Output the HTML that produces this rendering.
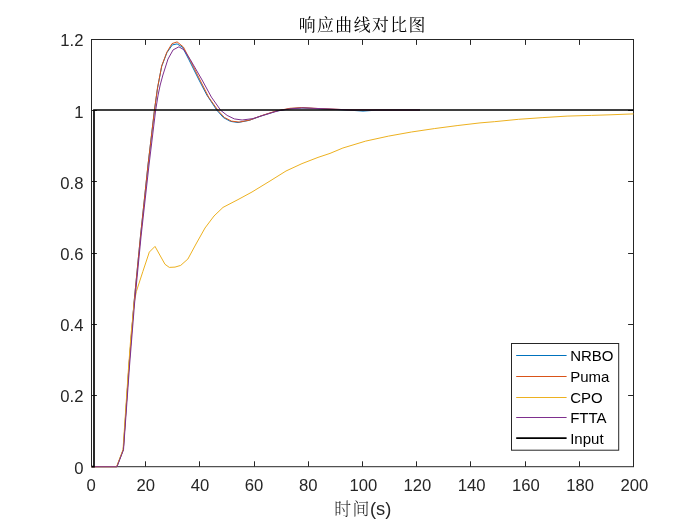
<!DOCTYPE html>
<html lang="zh-CN">
<head>
<meta charset="utf-8">
<title>响应曲线对比图</title>
<style>
html,body{margin:0;padding:0;background:#fff;}
body{width:700px;height:525px;overflow:hidden;}
svg{display:block;}
.tk text{font-family:"Liberation Sans",sans-serif;font-size:16.67px;fill:#262626;}
.lg text{font-family:"Liberation Sans",sans-serif;font-size:15px;fill:#000;}
.cjk{font-family:"Liberation Serif","Noto Serif CJK SC",serif;font-weight:300;}
.lat{font-family:"Liberation Sans",sans-serif;font-weight:400;}
.crv polyline{fill:none;stroke-width:1;stroke-linejoin:round;stroke-linecap:butt;}
</style>
</head>
<body>
<svg width="700" height="525" viewBox="0 0 700 525">
<rect x="0" y="0" width="700" height="525" fill="#ffffff"/>
<rect x="91.5" y="39.5" width="542.0" height="427.2" fill="none" stroke="#262626" stroke-width="1"/>
<path d="M145.50 466.70v-5.4M145.50 39.50v5.4M199.50 466.70v-5.4M199.50 39.50v5.4M254.50 466.70v-5.4M254.50 39.50v5.4M308.50 466.70v-5.4M308.50 39.50v5.4M362.50 466.70v-5.4M362.50 39.50v5.4M416.50 466.70v-5.4M416.50 39.50v5.4M470.50 466.70v-5.4M470.50 39.50v5.4M525.50 466.70v-5.4M525.50 39.50v5.4M579.50 466.70v-5.4M579.50 39.50v5.4M91.50 395.50h5.4M633.50 395.50h-5.4M91.50 324.50h5.4M633.50 324.50h-5.4M91.50 253.50h5.4M633.50 253.50h-5.4M91.50 181.50h5.4M633.50 181.50h-5.4M91.50 110.50h5.4M633.50 110.50h-5.4" fill="none" stroke="#262626" stroke-width="1"/>
<g class="crv">
<polyline points="91.5,466.7 116.8,466.7 123.3,449.7 129.0,365.0 134.0,303.0 140.5,236.0 148.0,165.0 154.4,110.6 157.5,88.2 161.7,66.3 166.9,52.7 172.3,44.9 177.1,43.9 182.5,47.2 189.0,59.9 199.0,80.0 206.8,95.0 216.9,110.3 223.4,117.6 230.5,121.4 238.0,122.5 249.0,120.4 261.4,115.9 275.7,111.3 290.0,108.6 301.6,107.9 320.0,108.8 350.0,110.2 363.0,111.1 376.0,110.2 400.0,110.0 420.0,110.0" stroke="#0072bd"/>
<polyline points="91.5,466.7 116.8,466.7 123.3,449.7 129.0,365.0 134.0,303.0 140.5,236.0 148.0,165.0 154.4,110.6 157.5,88.0 161.7,65.9 166.9,52.1 172.0,43.6 177.1,41.9 183.4,47.0 190.0,59.9 200.0,80.0 208.6,97.1 217.9,110.3 224.3,117.4 231.4,121.1 239.3,122.1 250.0,120.0 261.4,115.7 275.7,111.1 290.0,108.3 301.6,107.6 320.0,108.6 350.0,109.9 400.0,110.0 420.0,110.0" stroke="#d95319"/>
<polyline points="91.5,466.7 116.6,466.7 123.0,449.7 128.4,370.0 131.0,335.0 134.3,302.1 136.4,291.4 142.9,271.4 149.3,252.1 155.0,246.4 165.0,264.3 169.3,267.4 175.0,267.1 180.7,265.4 187.9,259.0 196.0,244.0 205.0,228.0 214.0,216.0 223.0,207.4 238.0,199.6 252.0,192.0 270.0,181.0 286.0,171.0 302.0,163.6 318.0,157.4 330.0,153.4 342.9,148.0 365.7,141.1 388.6,136.1 411.4,132.0 434.3,128.6 457.1,125.6 480.0,122.9 494.3,121.7 518.6,119.3 542.9,117.6 567.1,116.1 591.4,115.4 610.0,114.8 633.5,113.9" stroke="#edb120"/>
<polyline points="91.5,466.7 117.0,466.7 123.5,449.7 129.6,365.0 134.6,303.0 141.1,236.0 149.0,165.0 155.6,110.6 158.1,95.0 160.2,85.0 162.9,75.0 168.0,59.0 173.1,49.9 178.9,46.8 184.0,49.9 190.3,59.6 202.1,80.0 211.4,97.1 220.7,110.3 227.1,115.4 234.3,118.9 242.1,120.0 252.9,118.6 264.3,115.0 278.6,110.7 290.0,108.9 303.0,107.9 320.0,108.6 350.0,109.9 400.0,110.0 420.0,110.0" stroke="#7e2f8e"/>
<polyline points="91.5,466.7 94.0,466.7 94.0,110.0 633.5,110.0" stroke="#000000" style="stroke-width:1.67;stroke-linejoin:miter"/>
</g>
<g class="tk"><text x="91.1" y="491.0" text-anchor="middle">0</text><text x="145.7" y="491.0" text-anchor="middle">20</text><text x="199.9" y="491.0" text-anchor="middle">40</text><text x="254.1" y="491.0" text-anchor="middle">60</text><text x="308.3" y="491.0" text-anchor="middle">80</text><text x="363.3" y="491.0" text-anchor="middle">100</text><text x="417.5" y="491.0" text-anchor="middle">120</text><text x="471.7" y="491.0" text-anchor="middle">140</text><text x="525.9" y="491.0" text-anchor="middle">160</text><text x="580.1" y="491.0" text-anchor="middle">180</text><text x="634.3" y="491.0" text-anchor="middle">200</text><text x="83.4" y="473.5" text-anchor="end">0</text><text x="83.4" y="402.3" text-anchor="end">0.2</text><text x="83.4" y="331.1" text-anchor="end">0.4</text><text x="83.4" y="259.9" text-anchor="end">0.6</text><text x="83.4" y="188.7" text-anchor="end">0.8</text><text x="83.4" y="117.5" text-anchor="end">1</text><text x="83.4" y="46.3" text-anchor="end">1.2</text></g>
<text class="cjk" x="362.8" y="30.5" text-anchor="middle" font-size="16.9" fill="#000" letter-spacing="1.43" style="font-weight:400">响应曲线对比图</text>
<text x="362.75" y="515" text-anchor="middle" font-size="18.33" fill="#262626"><tspan class="cjk" font-size="16.9" letter-spacing="1.43">时间</tspan><tspan class="lat" dx="-0.8">(s)</tspan></text>
<g class="lg">
<rect x="511.5" y="343.5" width="107.2" height="106.7" fill="#ffffff" stroke="#262626" stroke-width="1"/>
<line x1="516.2" x2="566.6" y1="355.50" y2="355.50" stroke="#0072bd" stroke-width="1"/><text x="570.2" y="361.1">NRBO</text><line x1="516.2" x2="566.6" y1="376.50" y2="376.50" stroke="#d95319" stroke-width="1"/><text x="570.2" y="381.8">Puma</text><line x1="516.2" x2="566.6" y1="397.50" y2="397.50" stroke="#edb120" stroke-width="1"/><text x="570.2" y="402.6">CPO</text><line x1="516.2" x2="566.6" y1="417.50" y2="417.50" stroke="#7e2f8e" stroke-width="1"/><text x="570.2" y="423.1">FTTA</text><line x1="516.2" x2="566.6" y1="438.20" y2="438.20" stroke="#000" stroke-width="1.67"/><text x="570.2" y="443.5">Input</text>
</g>
</svg>
</body>
</html>
